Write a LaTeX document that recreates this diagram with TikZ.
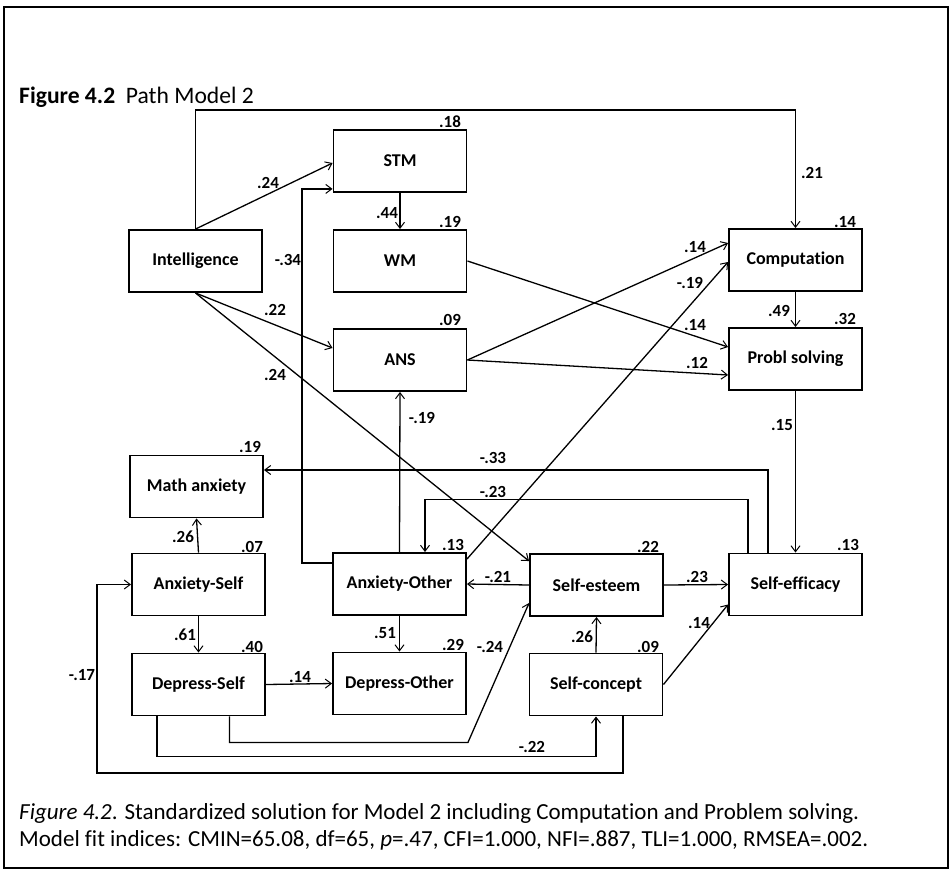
\documentclass[tikz,border=0pt]{standalone}
\usepackage{fontspec}
\setmainfont{Carlito}[Ligatures={NoCommon}]
\usetikzlibrary{arrows.meta,calc}

\tikzset{
  var/.style={draw, line width=1.9pt, minimum width=133pt, minimum height=62pt,
    inner sep=0pt, font=\fontsize{18}{21}\selectfont\bfseries},
  coef/.style={inner sep=0pt, font=\fontsize{17}{20}\selectfont\bfseries},
  path/.style={line width=1.3pt, -{Straight Barb[length=6pt,width=9pt,line width=1pt]}},
  txt/.style={inner sep=0pt, anchor=west, font=\fontsize{23}{27}\selectfont}
}

\begin{document}
\begin{tikzpicture}[x=1pt,y=-1pt]
\useasboundingbox (0,0) rectangle (952,876);
\fill[white] (0,0) rectangle (952,876);
\draw[line width=1.8pt] (4,7) rectangle (948,868) coordinate (frame);

\node[txt, font=\fontsize{23.6}{27}\selectfont] (title) at (19,97) {\textbf{Figure 4.2}\ \ Path Model 2};

% variables
\node[var] (int)  at (195.5,261)   {Intelligence};
\node[var] (stm)  at (400,161)     {STM};
\node[var] (wm)   at (400,261)     {WM};
\node[var] (ans)  at (400,360)     {ANS};
\node[var] (comp) at (795.5,260)   {Computation};
\node[var] (prob) at (795.5,359)   {Probl solving};
\node[var] (math) at (196.5,486.5) {Math anxiety};
\node[var] (as)   at (198.5,584.5) {Anxiety-Self};
\node[var] (ao)   at (399.5,584)   {Anxiety-Other};
\node[var] (se)   at (596.5,585)   {Self-esteem};
\node[var] (eff)  at (795.5,584.5) {Self-efficacy};
\node[var] (ds)   at (198.5,684.5) {Depress-Self};
\node[var] (do)   at (399.5,683.5) {Depress-Other};
\node[var] (sc)   at (596,684.5)   {Self-concept};

% explained variance
\node[coef] (r-stm)  at (450,122) {.18};
\node[coef] (r-wm)   at (450,222) {.19};
\node[coef] (r-ans)  at (450,320) {.09};
\node[coef] (r-comp) at (845,222) {.14};
\node[coef] (r-prob) at (845,319) {.32};
\node[coef] (r-math) at (250,447) {.19};
\node[coef] (r-as)   at (252,547) {.07};
\node[coef] (r-ao)   at (453,545) {.13};
\node[coef] (r-se)   at (648,547) {.22};
\node[coef] (r-eff)  at (848,545) {.13};
\node[coef] (r-ds)   at (252,647) {.40};
\node[coef] (r-do)   at (453,645) {.29};
\node[coef] (r-sc)   at (648,647) {.09};

% paths
\draw[path] (int.north) -- ++(0,-119) -| (comp.north);
\draw[path] (int.north) -- ($(stm.west)+(0,2)$);
\draw[path] (stm.south) -- (wm.north);
\draw[path] (int.south) -- ($(ans.west)+(0,-12)$);
\draw[path] (int.south) -- ($(se.north west)+(0,8)$);
\draw[path] (wm.east) -- ($(prob.west)+(0,-12)$);
\draw[path] (ans.east) -- ($(comp.west)+(0,-17)$);
\draw[path] (ans.east) -- ($(prob.west)+(0,16)$);
\draw[path] ($(ao.north east)+(0,7)$) -- ($(comp.west)+(0,2)$);
\draw[path] (comp.south) -- (prob.north);
\draw[path] (prob.south) -- (eff.north);
\draw[path] ($(eff.north west)+(40,0)$) |- ($(math.east)+(0,-16.5)$);
\draw[path] ($(eff.north west)+(20,0)$) -- ++(0,-53) -| ($(ao.north)+(25.5,0)$);
\draw[path] ($(ao.west)+(0,-21)$) -- ++(-30,0) |- ($(stm.south west)+(0,-4)$);
\draw[path] (ao.north) -- (ans.south);
\draw[path] (as.north) -- (math.south);
\draw[path] (as.south) -- (ds.north);
\draw[path] (ao.south) -- (do.north);
\draw[path] (se.west) -- (ao.east);
\draw[path] (se.east) -- (eff.west);
\draw[path] (sc.north) -- (se.south);
\draw[path] (sc.east) -- ($(eff.west)+(0,20)$);
\draw[path] (ds.east) -- (do.west);
\draw[path] ($(ds.south)+(31,0)$) |- ($(do.south east)+(1,27)$) -- ($(se.west)+(0,18)$);
\draw[path] ($(ds.south)+(-41.5,0)$) -- ++(0,40) -| (sc.south);
\draw[path] ($(sc.south)+(27,0)$) |- ($(as.west)+(-34,188.5)$) |- (as.west);

% path coefficients
\node[coef] (c-int-comp) at (812,173) {.21};
\node[coef] (c-int-stm)  at (268,183) {.24};
\node[coef] (c-stm-wm)   at (387,213) {.44};
\node[coef] (c-int-ans)  at (275,310) {.22};
\node[coef] (c-int-se)   at (275,375) {.24};
\node[coef] (c-wm-prob)  at (695,325) {.14};
\node[coef] (c-ans-comp) at (695,247) {.14};
\node[coef] (c-ans-prob) at (697,363) {.12};
\node[coef] (c-ao-comp)  at (690,283) {-.19};
\node[coef] (c-comp-prob) at (779,311) {.49};
\node[coef] (c-prob-eff) at (782,425) {.15};
\node[coef] (c-eff-math) at (493,458) {-.33};
\node[coef] (c-eff-ao)   at (493,492) {-.23};
\node[coef] (c-ao-stm)   at (288,260) {-.34};
\node[coef] (c-ao-ans)   at (422,418) {-.19};
\node[coef] (c-as-math)  at (183,537) {.26};
\node[coef] (c-as-ds)    at (185,635) {.61};
\node[coef] (c-ao-do)    at (385,633) {.51};
\node[coef] (c-se-ao)    at (498,577) {-.21};
\node[coef] (c-se-eff)   at (697,577) {.23};
\node[coef] (c-sc-se)    at (582,637) {.26};
\node[coef] (c-sc-eff)   at (699,623) {.14};
\node[coef] (c-ds-do)    at (300,677) {.14};
\node[coef] (c-ds-se)    at (490,647) {-.24};
\node[coef] (c-ds-sc)    at (532,747) {-.22};
\node[coef] (c-sc-as)    at (82,675)  {-.17};

% caption
\node[txt] (cap1) at (19,813) {\textit{Figure 4.2}. Standardized solution for Model 2 including Computation and Problem solving.};
\node[txt] (cap2) at (19,840) {Model fit indices: CMIN=65.08, df=65, \textit{p}=.47, CFI=1.000, NFI=.887, TLI=1.000, RMSEA=.002.};
\end{tikzpicture}
\end{document}
